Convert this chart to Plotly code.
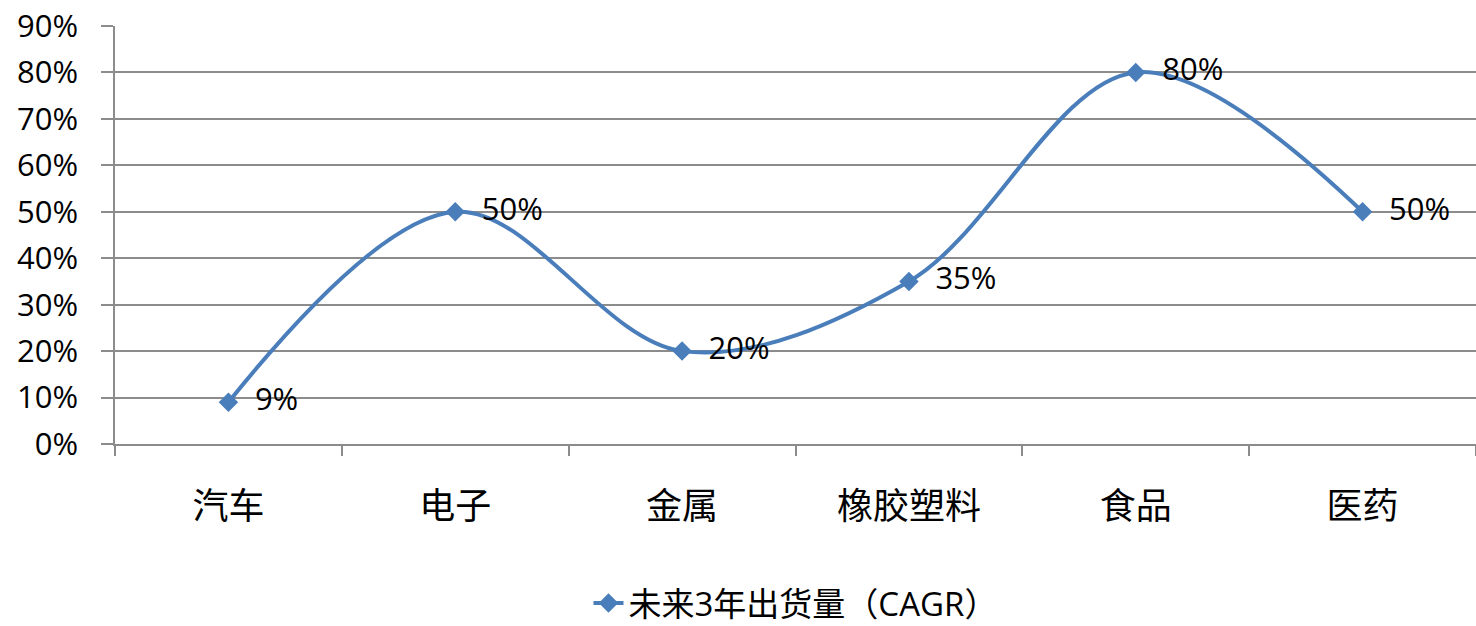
import plotly.graph_objects as go

categories = ["汽车", "电子", "金属", "橡胶塑料", "食品", "医药"]
values = [0.09, 0.50, 0.20, 0.35, 0.80, 0.50]
labels = ["9%", "50%", "20%", "35%", "80%", "50%"]
series_name = "未来3年出货量（CAGR）"
y_ticks = [0, 0.1, 0.2, 0.3, 0.4, 0.5, 0.6, 0.7, 0.8, 0.9]

LATIN = "Open Sans, Noto Sans CJK SC, sans-serif"
CJK = "Noto Sans CJK SC, sans-serif"
GRID = "#8c8c8c"
BLUE = "#4a7ebb"

fig = go.Figure()
fig.add_trace(go.Scatter(
    x=categories, y=values, name=series_name,
    mode="lines+markers+text",
    line=dict(color=BLUE, width=4, shape="spline", smoothing=1.0),
    marker=dict(symbol="diamond", size=15, color=BLUE),
    text=["  " + t for t in labels],
    textposition="middle right",
    textfont=dict(family=LATIN, size=31, color="black"),
    cliponaxis=False,
))

fig.update_layout(
    width=1476, height=626,
    margin=dict(l=115, r=0, t=26, b=182),
    plot_bgcolor="white", paper_bgcolor="white",
    showlegend=True,
    legend=dict(orientation="h", x=0.5, xanchor="center",
                yref="container", y=(626 - 603) / 626, yanchor="middle",
                font=dict(family=LATIN, size=33, color="black")),
    xaxis=dict(
        type="category", range=[-0.5, 5.5], automargin=False,
        tickson="boundaries", ticks="outside", ticklen=10, tickcolor=GRID, tickwidth=1.5,
        showline=True, linecolor=GRID, linewidth=1.5,
        showgrid=False, zeroline=False,
        tickfont=dict(family=CJK, size=36, color="black"),
        ticklabelstandoff=30,
    ),
    yaxis=dict(
        range=[0, 0.9], tickvals=y_ticks, tickformat=".0%", automargin=False,
        ticks="outside", ticklen=12, tickcolor=GRID, tickwidth=1.5,
        showline=True, linecolor=GRID, linewidth=1.5,
        showgrid=True, gridcolor=GRID, gridwidth=1.5,
        zeroline=False,
        tickfont=dict(family=LATIN, size=31, color="black"),
        ticklabelstandoff=17,
    ),
)

fig.write_html("out.html", config={"displayModeBar": False},
               post_script="document.body.style.margin='0';document.body.style.overflow='hidden';")
